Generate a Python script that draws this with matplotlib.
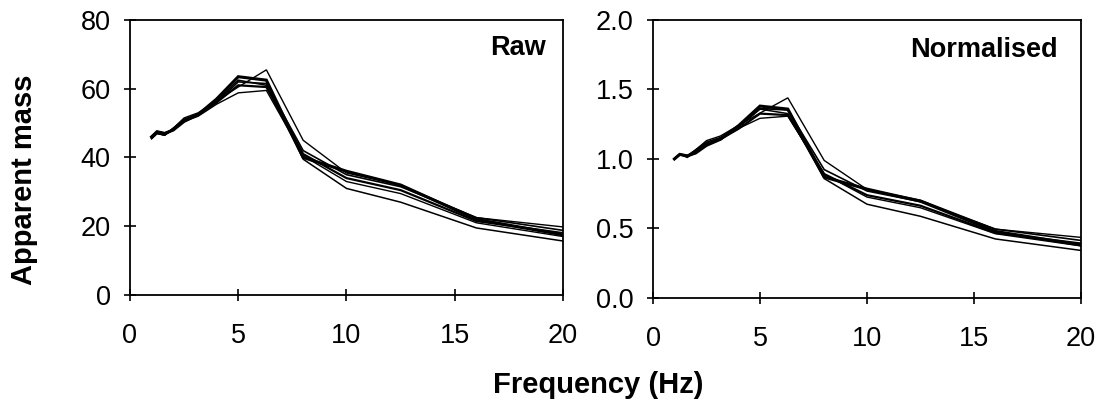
import matplotlib
matplotlib.use("Agg")
import matplotlib.pyplot as plt
import numpy as np

plt.rcParams['font.family'] = ['Liberation Sans', 'DejaVu Sans']

# One-third octave centre frequencies (Hz)
freq = [1, 1.25, 1.6, 2, 2.5, 3.15, 4, 5, 6.3, 8, 10, 12.5, 16, 20]

# Raw apparent mass curves (kg)
raw_a = [45.5, 47.0, 46.5, 48.5, 51.5, 53.0, 56.5, 60.5, 65.5, 45.0, 35.5, 32.0, 22.5, 19.8]
raw_b = [46.0, 47.5, 47.0, 48.0, 50.5, 52.5, 57.0, 63.5, 62.5, 40.0, 36.0, 32.0, 22.0, 17.5]
raw_c = [45.5, 47.0, 46.5, 48.5, 51.0, 52.5, 56.0, 62.0, 61.5, 42.0, 35.0, 31.5, 22.5, 18.8]
raw_d = [46.0, 47.5, 47.0, 48.0, 51.0, 52.5, 56.0, 61.0, 60.5, 41.0, 34.0, 30.5, 21.5, 18.0]
raw_e = [45.5, 47.0, 46.5, 48.0, 50.5, 52.0, 55.5, 58.8, 59.5, 40.5, 33.0, 29.5, 21.0, 17.0]
raw_f = [46.0, 47.5, 46.5, 48.5, 51.0, 52.5, 56.5, 62.5, 61.0, 39.5, 31.0, 27.0, 19.5, 15.7]
raw_series = [raw_a, raw_b, raw_c, raw_d, raw_e, raw_f]
line_widths = [1.0, 2.2, 1.2, 1.6, 1.0, 1.1]

x_ticks = [0, 5, 10, 15, 20]
raw_yticks = [0, 20, 40, 60, 80]
norm_yticks = [0.0, 0.5, 1.0, 1.5, 2.0]

fig = plt.figure(figsize=(11.07, 4.08), dpi=100)
ax1 = fig.add_axes([0.1174, 0.277, 0.3912, 0.674])
ax2 = fig.add_axes([0.5899, 0.270, 0.3866, 0.681])

for s, lw in zip(raw_series, line_widths):
    s = np.asarray(s)
    ax1.plot(freq, s, color='black', lw=lw, solid_joinstyle='miter')
    ax2.plot(freq, s / s[0], color='black', lw=lw, solid_joinstyle='miter')

ax1.set_xlim(0, 20)
ax1.set_ylim(0, 80)
ax1.set_yticks(raw_yticks)
ax1.set_yticklabels([str(v) for v in raw_yticks])
ax2.set_xlim(0, 20)
ax2.set_ylim(0, 2.0)
ax2.set_yticks(norm_yticks)
ax2.set_yticklabels([f"{v:.1f}" for v in norm_yticks])

for ax in (ax1, ax2):
    ax.set_xticks(x_ticks)
    ax.set_xticklabels([str(v) for v in x_ticks])
    ax.tick_params(direction='inout', length=8, width=1.2, labelsize=19.5, color='black')
    ax.tick_params(axis='x', pad=16)
    ax.tick_params(axis='y', pad=10)
    for sp in ax.spines.values():
        sp.set_linewidth(1.3)
        sp.set_color('black')

ax1.text(0.96, 0.945, 'Raw', transform=ax1.transAxes, ha='right', va='top',
         fontsize=19.5, fontweight='bold')
ax2.text(0.945, 0.94, 'Normalised', transform=ax2.transAxes, ha='right', va='top',
         fontsize=19.5, fontweight='bold')

fig.text(0.022, 0.56, 'Apparent mass', rotation=90, ha='center', va='center',
         fontsize=21, fontweight='bold')
fig.text(0.540, 0.057, 'Frequency (Hz)', ha='center', va='center',
         fontsize=21, fontweight='bold')

fig.savefig('out.png', dpi=100)
